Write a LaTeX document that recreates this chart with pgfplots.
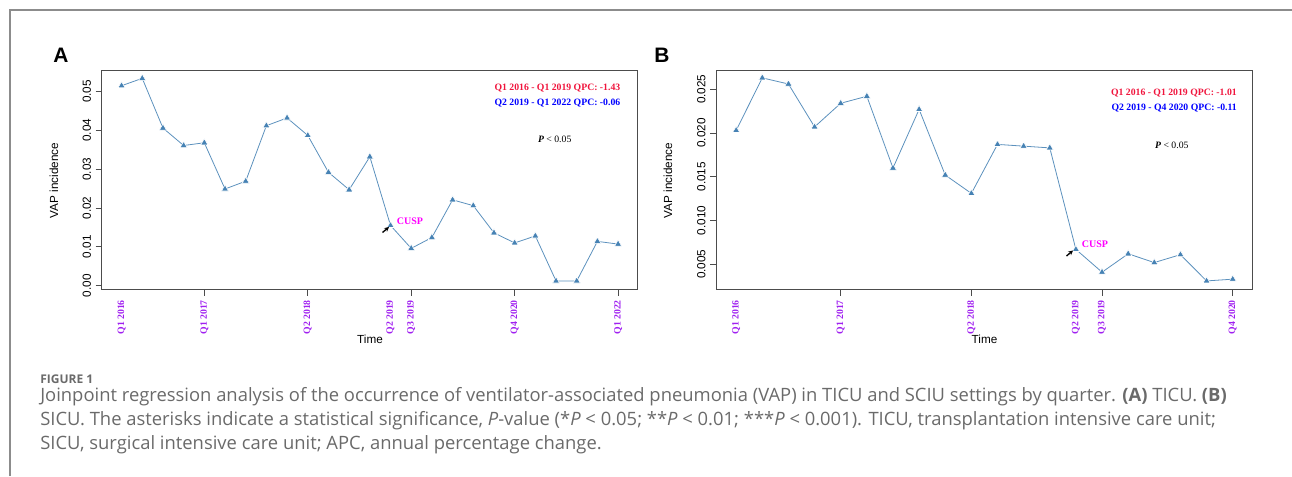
\documentclass[border=0pt]{standalone}
\usepackage{fontspec}
\setmainfont{Liberation Sans}
\newfontfamily\tnr{Liberation Serif}
\newfontfamily\capf{Open Sans}
\usepackage{pgfplots}
\pgfplotsset{compat=1.18}
\usetikzlibrary{arrows.meta}
\definecolor{steel}{HTML}{4682B4}
\definecolor{qpurple}{HTML}{A020F0}
\definecolor{qmag}{HTML}{FF00FF}
\definecolor{qred}{HTML}{F0143C}
\definecolor{qblue}{HTML}{0000FF}
\definecolor{capgray}{HTML}{6A6A6A}
\pgfplotsset{
  vapstyle/.style={
    scale only axis, width=402.2pt, height=163.9pt, anchor=south west,
    axis line style={black!70, line width=0.75pt},
    tick style={black!70, line width=0.6pt},
    tick align=outside, major tick length=4.5pt, tick pos=left,
    xticklabel style={rotate=90, anchor=east, text=qpurple, font=\tnr\bfseries\fontsize{7.3}{8}\selectfont},
    yticklabel style={rotate=90, anchor=south, font=\fontsize{8.8}{10}\selectfont},
    scaled y ticks=false,
    /pgf/number format/assume math mode=true,
    extra x tick style={tick style={draw=none}},
  },
  vapline/.style={steel!88!white, line width=0.6pt, mark=triangle*, mark size=3.1pt,
    mark options={fill=steel, draw=white, line width=0.45pt}},
}
\begin{document}
\begin{tikzpicture}[x=0.75pt,y=0.75pt]
\path[use as bounding box] (0,0) rectangle (1292,476);
\draw[black!45, line width=1pt] (10,0) -- (10,466) -- (1292,466);

% Panel A
\begin{axis}[vapstyle, at={(76.275pt,139.875pt)},
  xmin=0.04, xmax=25.96, ymin=-0.001, ymax=0.0553,
  xtick={5,10,15,20,25}, xticklabels={Q1 2017,Q2 2018,Q3 2019,Q4 2020,Q1 2022},
  extra x ticks={1,14}, extra x tick labels={Q1 2016,Q2 2019},
  ytick={0,0.01,0.02,0.03,0.04,0.05},
  yticklabel style={/pgf/number format/fixed, /pgf/number format/fixed zerofill, /pgf/number format/precision=2},
]
\addplot[vapline] table {
x y
1 0.0515
2 0.0534
3 0.0406
4 0.0361
5 0.0368
6 0.0249
7 0.0269
8 0.0412
9 0.0432
10 0.0387
11 0.0292
12 0.0247
13 0.0332
14 0.0155
15 0.0096
16 0.0124
17 0.0221
18 0.0206
19 0.0136
20 0.0110
21 0.0128
22 0.0012
23 0.0012
24 0.0114
25 0.0107
};
\end{axis}

% Panel B
\begin{axis}[vapstyle, at={(537.225pt,139.875pt)},
  xmin=0.24, xmax=20.76, ymin=0.00212, ymax=0.02709,
  xtick={5,10,15,20}, xticklabels={Q1 2017,Q2 2018,Q3 2019,Q4 2020},
  extra x ticks={1,14}, extra x tick labels={Q1 2016,Q2 2019},
  ytick={0.005,0.010,0.015,0.020,0.025},
  yticklabel style={/pgf/number format/fixed, /pgf/number format/fixed zerofill, /pgf/number format/precision=3},
]
\addplot[vapline] table {
x y
1 0.0203
2 0.0263
3 0.0256
4 0.0207
5 0.0234
6 0.0242
7 0.0160
8 0.0227
9 0.0152
10 0.0131
11 0.0187
12 0.0185
13 0.0183
14 0.0067
15 0.0041
16 0.0062
17 0.0052
18 0.0061
19 0.0031
20 0.0033
};
\end{axis}

% Panel letters
\node[anchor=base west, inner sep=0pt, font=\bfseries\fontsize{15.7}{16}\selectfont] at (53,413) {A};
\node[anchor=base west, inner sep=0pt, font=\bfseries\fontsize{15.7}{16}\selectfont] at (654,413) {B};
% axis labels
\node[rotate=90, inner sep=0pt, font=\fontsize{8.8}{10}\selectfont] at (54,295.5) {VAP incidence};
\node[rotate=90, inner sep=0pt, font=\fontsize{8.8}{10}\selectfont] at (668,295.5) {VAP incidence};
\node[inner sep=0pt, font=\fontsize{8.8}{10}\selectfont] at (370,137) {Time};
\node[inner sep=0pt, font=\fontsize{8.8}{10}\selectfont] at (984.5,137) {Time};
% annotations A
\node[anchor=east, inner sep=0pt, text=qred, font=\tnr\bfseries\fontsize{7.3}{8}\selectfont] at (620.5,388.3) {Q1 2016 - Q1 2019 QPC: -1.43};
\node[anchor=east, inner sep=0pt, text=qblue, font=\tnr\bfseries\fontsize{7.3}{8}\selectfont] at (620.5,373.3) {Q2 2019 - Q1 2022 QPC: -0.06};
\node[inner sep=0pt, font=\tnr\fontsize{7.3}{8}\selectfont] at (554.7,337) {\textbf{\textit{P}} < 0.05};
\node[anchor=west, inner sep=0pt, text=qmag, font=\tnr\bfseries\fontsize{7.5}{8}\selectfont] at (396.7,254.3) {CUSP};
\draw[-{Stealth[length=3.5pt,width=3.5pt]}, line width=1pt] (382.5,243.5) -- (389,249);
% annotations B
\node[anchor=east, inner sep=0pt, text=qred, font=\tnr\bfseries\fontsize{7.3}{8}\selectfont] at (1237,383.3) {Q1 2016 - Q1 2019 QPC: -1.01};
\node[anchor=east, inner sep=0pt, text=qblue, font=\tnr\bfseries\fontsize{7.3}{8}\selectfont] at (1237,367.7) {Q2 2019 - Q4 2020 QPC: -0.11};
\node[inner sep=0pt, font=\tnr\fontsize{7.3}{8}\selectfont] at (1171.8,331) {\textbf{\textit{P}} < 0.05};
\node[anchor=west, inner sep=0pt, text=qmag, font=\tnr\bfseries\fontsize{7.5}{8}\selectfont] at (1081.7,231.7) {CUSP};
\draw[-{Stealth[length=3.5pt,width=3.5pt]}, line width=1pt] (1066.5,220) -- (1073,225.5);

% caption
\node[anchor=west, inner sep=0pt, text=capgray, font=\capf\bfseries\fontsize{9}{10}\selectfont] at (40,97) {FIGURE 1};
\node[anchor=west, inner sep=0pt, text=capgray, font=\capf\fontsize{13.8}{16}\selectfont] at (40,79) {Joinpoint regression analysis of the occurrence of ventilator-associated pneumonia (VAP) in TICU and SCIU settings by quarter. \textbf{(A)} TICU. \textbf{(B)}};
\node[anchor=west, inner sep=0pt, text=capgray, font=\capf\fontsize{13.8}{16}\selectfont] at (40,55) {SICU. The asterisks indicate a statistical significance, \textit{P}-value (*\textit{P} < 0.05; **\textit{P} < 0.01; ***\textit{P} < 0.001). TICU, transplantation intensive care unit;};
\node[anchor=west, inner sep=0pt, text=capgray, font=\capf\fontsize{13.8}{16}\selectfont] at (40,31) {SICU, surgical intensive care unit; APC, annual percentage change.};
\end{tikzpicture}
\end{document}
